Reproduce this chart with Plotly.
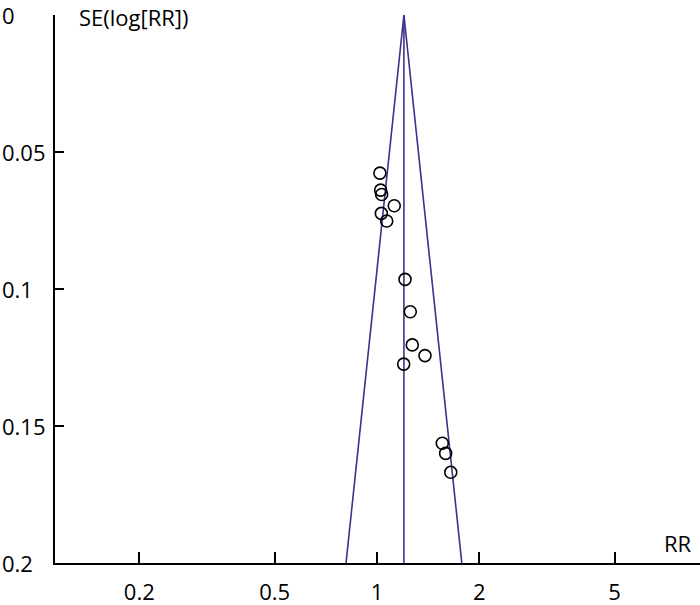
import numpy as np
import plotly.graph_objects as go

# Study estimates
rr = [1.02, 1.025, 1.032, 1.124, 1.03, 1.068, 1.209, 1.253, 1.27, 1.384, 1.198, 1.556, 1.592, 1.648]
se = [0.0577, 0.0639, 0.0655, 0.0696, 0.0724, 0.0752, 0.0965, 0.1083, 0.1204, 0.1243, 0.1274, 0.1563, 0.1600, 0.1669]

pooled_rr = 1.20
se_max = 0.2
z = 1.96

x_ticks = [0.2, 0.5, 1, 2, 5]
x_ticktext = ["0.2", "0.5", "1", "2", "5"]
y_ticks = [0, 0.05, 0.1, 0.15, 0.2]
y_ticktext = ["0", "0.05", "0.1", "0.15", "0.2"]

FONT = "Open Sans"
FS = 22
LINE_COLOR = "#40308c"

lo = float(np.exp(np.log(pooled_rr) - z * se_max))
hi = float(np.exp(np.log(pooled_rr) + z * se_max))

fig = go.Figure()
fig.add_trace(go.Scatter(x=[lo, pooled_rr, hi], y=[se_max, 0, se_max], mode="lines",
                         line=dict(color=LINE_COLOR, width=1.6), hoverinfo="skip", showlegend=False))
fig.add_trace(go.Scatter(x=[pooled_rr, pooled_rr], y=[0, se_max], mode="lines",
                         line=dict(color=LINE_COLOR, width=1.6), hoverinfo="skip", showlegend=False))
fig.add_trace(go.Scatter(x=rr, y=se, mode="markers",
                         marker=dict(symbol="circle-open", size=12, color="black", line=dict(width=1.6)),
                         showlegend=False, cliponaxis=False))

fig.update_layout(
    width=700, height=605,
    margin=dict(l=55, r=0, t=15, b=42),
    plot_bgcolor="white", paper_bgcolor="white",
    font=dict(family=FONT, size=FS, color="black"),
    showlegend=False,
)
fig.update_xaxes(type="log", range=[-0.947, 0.950], tickvals=x_ticks, ticktext=x_ticktext,
                 ticks="inside", ticklen=11, tickwidth=1.5, tickcolor="black",
                 showline=True, linecolor="black", linewidth=1.5,
                 showgrid=False, zeroline=False, ticklabelstandoff=9, automargin=False)
fig.update_yaxes(range=[se_max, 0], tickvals=y_ticks, showticklabels=False,
                 ticks="inside", ticklen=9, tickwidth=1.5, tickcolor="black",
                 showline=True, linecolor="black", linewidth=1.5,
                 showgrid=False, zeroline=False, automargin=False)

# left-aligned y tick labels
for v, t in zip(y_ticks, y_ticktext):
    fig.add_annotation(text=t, xref="paper", yref="y", x=0, y=v, xshift=-55,
                       xanchor="left", yanchor="middle", showarrow=False,
                       font=dict(family=FONT, size=FS))

fig.add_annotation(text="SE(log[RR])", xref="paper", yref="paper", x=0, y=1,
                   xshift=22, yshift=-2, xanchor="left", yanchor="middle", showarrow=False,
                   font=dict(family=FONT, size=FS))
fig.add_annotation(text="RR", xref="paper", yref="paper", x=1, y=0,
                   xshift=-22, yshift=20, xanchor="center", yanchor="middle", showarrow=False,
                   font=dict(family=FONT, size=FS))

fig.write_html("out.html", config={"displayModeBar": False},
               post_script="document.body.style.margin='0';")
